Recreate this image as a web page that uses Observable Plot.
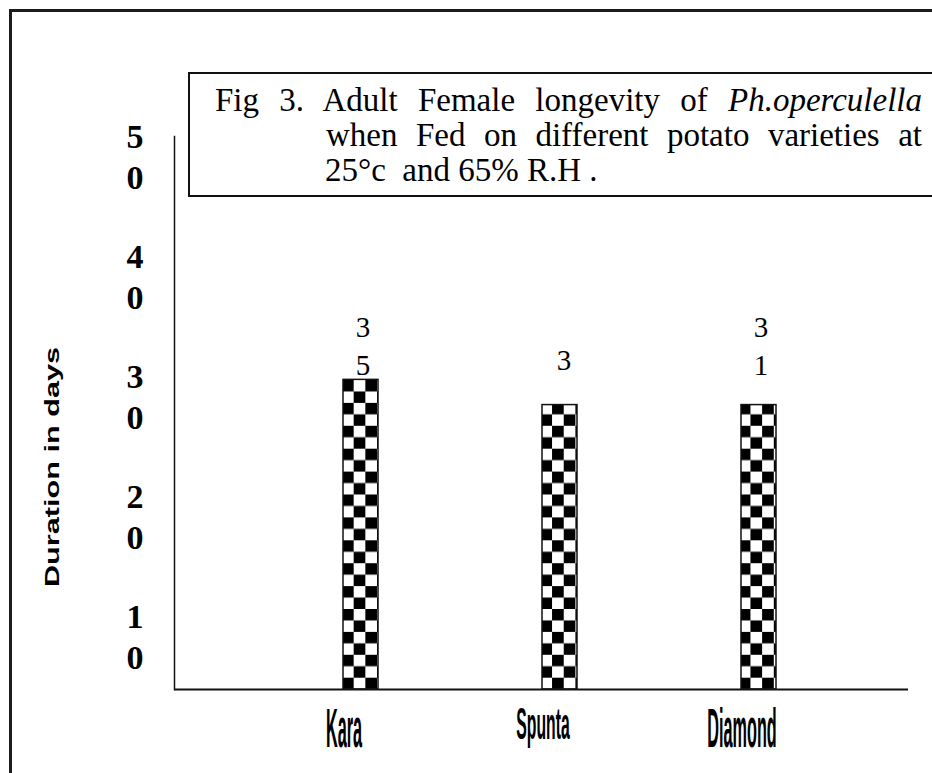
<!DOCTYPE html>
<html>
<head>
<meta charset="utf-8">
<script src="https://cdn.jsdelivr.net/npm/d3@7"></script>
<script src="https://cdn.jsdelivr.net/npm/@observablehq/plot@0.6"></script>
<style>
  html, body { margin: 0; padding: 0; background: #fff; overflow: hidden; }
  #wrap { position: relative; width: 932px; height: 773px; overflow: hidden; background: #fff; }
  #outer { position: absolute; left: 9px; top: 9px; width: 1000px; height: 1000px;
           border-left: 3px solid #1c1c1c; border-top: 3px solid #1c1c1c; }
  #chart { position: absolute; left: 0; top: 0; }
  #title { position: absolute; left: 188px; top: 72px; width: 800px; height: 125px; box-sizing: border-box;
           border: 2px solid #111; background: #fff; font-family: "Liberation Serif", "Times New Roman", serif;
           font-size: 33px; line-height: 35px; color: #000; padding-top: 9px; }
  #title .ln { white-space: nowrap; }
  #title .j { text-align: justify; text-align-last: justify; white-space: normal; }
  #ytitle { position: absolute; left: 51px; top: 467px; white-space: nowrap;
            font-family: "Liberation Sans", Arial, sans-serif; font-weight: bold; font-size: 21px; line-height: 1;
            transform: translate(-50%, -50%) rotate(-90deg) scaleX(1.46); color: #000; }
</style>
</head>
<body>
<svg width="0" height="0" style="position:absolute">
  <defs>
    <pattern id="checker" patternUnits="userSpaceOnUse" x="342" y="380" width="23.34" height="22.9">
      <rect width="23.34" height="22.9" fill="#fff"></rect>
      <rect width="11.67" height="11.45" fill="#000"></rect>
      <rect x="11.67" y="11.45" width="11.67" height="11.45" fill="#000"></rect>
    </pattern>
  </defs>
</svg>
<div id="wrap">
  <div id="outer"></div>
  <div id="chart"></div>
  <div id="title"></div>
  <div id="ytitle"></div>
</div>
<script>
// ---- data ----
const varieties = ["Kara", "Spunta", "Diamond"];
const durations = [25.8, 23.7, 23.7];          // bar heights read against the axis
const barLabels = ["35", "3", "31"];           // data labels as printed
const yTicks = [10, 20, 30, 40, 50];
const yTitle = "Duration in days";
const titleLine1 = ["Fig 3. Adult Female longevity of ", "Ph.operculella"];
const titleLine2 = "when Fed on different potato varieties at";
const titleLine3 = "25°c  and 65% R.H .";

// ---- table ----
const data = varieties.map((v, i) => ({
  variety: v,
  days: durations[i],
  label: barLabels[i].split("").join("\n")
}));
const topDays = d3.max(durations);

const chart = Plot.plot({
  width: 932,
  height: 773,
  marginLeft: 174,
  marginRight: 24,
  marginTop: 136,
  marginBottom: 84,
  style: { background: "transparent", fontFamily: "Liberation Serif", color: "#000", overflow: "visible" },
  x: { domain: varieties, paddingInner: 0.825, paddingOuter: 0.752, align: 0.56, axis: null },
  y: { domain: [0, 46.08] },
  marks: [
    Plot.barY(data, { x: "variety", y: "days", fill: "url(#checker)", stroke: "#111", strokeWidth: 1.5 }),
    Plot.axisY(yTicks, {
      tickSize: 0, tickPadding: 31, dy: 66, fontSize: 34, fontWeight: "bold", lineHeight: 1.22,
      fill: "#000", tickFormat: d => String(d).split("").join("\n"), label: null
    }),
    Plot.frame({ anchor: "left", stroke: "#111", strokeWidth: 1.5 }),
    Plot.ruleY([0], { stroke: "#111", strokeWidth: 2 }),
    // data labels sit at a common level just above the tallest bar
    Plot.text(data.filter(d => d.label.includes("\n")), {
      x: "variety", y: () => topDays, text: "label", lineAnchor: "bottom", dy: -5, dx: 2,
      fontSize: 29, lineHeight: 1.31, fill: "#000"
    }),
    Plot.text(data.filter(d => !d.label.includes("\n")), {
      x: "variety", y: () => topDays, text: "label", lineAnchor: "bottom", dy: -10, dx: 4,
      fontSize: 29, fill: "#000"
    }),
    Plot.text(varieties, {
      x: d => d, frameAnchor: "bottom", dy: 18, dx: -17, lineAnchor: "top",
      fontFamily: "Liberation Sans", fontWeight: "bold",
      fontSize: d => d === "Spunta" ? 45 : 56, fill: "#000"
    })
  ]
});

// squeeze the category labels horizontally like the original
d3.select(chart).selectAll("text").each(function () {
  const t = this.textContent;
  if (varieties.includes(t)) {
    const tr = this.getAttribute("transform") || "";
    const sx = t === "Spunta" ? 0.35 : 0.29;
    this.setAttribute("transform", tr + ` scale(${sx},1)`);
  }
});

document.getElementById("chart").appendChild(chart);

const title = document.getElementById("title");
const l1 = document.createElement("div");
l1.className = "ln j";
l1.style.marginLeft = "25px";
l1.style.width = "707px";
l1.append(titleLine1[0]);
const it = document.createElement("i");
it.textContent = titleLine1[1];
l1.append(it);
const l2 = document.createElement("div");
l2.className = "ln j";
l2.style.marginLeft = "136px";
l2.style.width = "596px";
l2.textContent = titleLine2;
const l3 = document.createElement("div");
l3.className = "ln";
l3.style.marginLeft = "135px";
l3.style.whiteSpace = "pre";
l3.textContent = titleLine3;
title.append(l1, l2, l3);

document.getElementById("ytitle").textContent = yTitle;
</script>
</body>
</html>
